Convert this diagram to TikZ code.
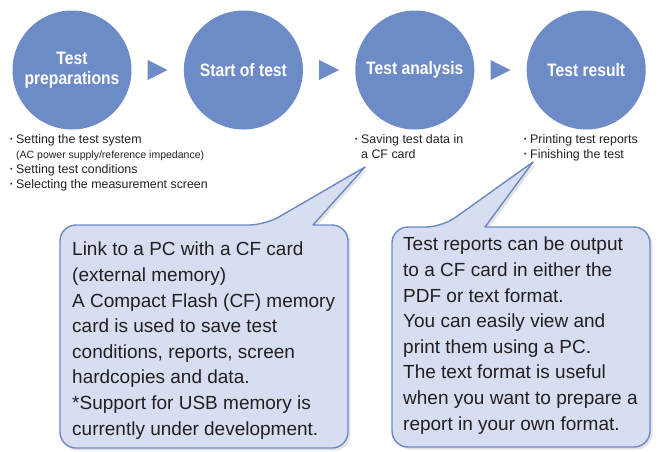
\documentclass[tikz,border=0pt]{standalone}
\usepackage{fontspec}
\setmainfont{Liberation Sans}
\newfontfamily\titlefont[FakeStretch=0.87]{Liberation Sans}
\usetikzlibrary{positioning,calc,shadows}

\definecolor{stagefill}{HTML}{6D8BC7}
\definecolor{notefill}{HTML}{D7DEF1}
\definecolor{noteline}{HTML}{6A89C6}
\definecolor{inktext}{HTML}{231F20}

\newcommand{\bul}{\makebox[6pt][l]{\raisebox{0.25ex}{\fontsize{7}{7}\selectfont\textbullet}}}

\begin{document}
\begin{tikzpicture}[
    x=1pt, y=-1pt,
    stage/.style={circle, fill=stagefill, minimum size=119pt, inner sep=0pt, align=center, text=white,
        font=\titlefont\bfseries\fontsize{18}{20}\selectfont},
    steplist/.style={anchor=base west, inner sep=0pt, align=left, text=inktext,
        font=\fontsize{12.4}{15}\selectfont},
    callout/.style={draw=noteline, line width=1.4pt, fill=notefill, line join=round,
        drop shadow={opacity=0.22, shadow xshift=2.5pt, shadow yshift=-2.5pt}},
    calltext/.style={anchor=base west, inner sep=0pt, align=left, text=inktext,
        font=\fontsize{19}{25.6}\selectfont},
]
    \useasboundingbox (0,0) rectangle (661,451);

    \node[stage] (prep) at (72,70) {Test\\preparations};
    \node[stage, right=52pt of prep] (start) {Start of test};
    \node[stage, right=52pt of start] (analysis) {Test analysis};
    \node[stage, right=52pt of analysis] (result) {Test result};

    \foreach \a/\b in {prep/start, start/analysis, analysis/result}
        \fill[stagefill] ($(\a)!0.5!(\b)+(-10,-10)$) -- ($(\a)!0.5!(\b)+(10,0)$) -- ($(\a)!0.5!(\b)+(-10,10)$) -- cycle;

    % base anchor sits on the last line
    \node[steplist] (prepnotes) at (10,188) {\bul Setting the test system\\
        \hspace*{6pt}{\fontsize{10.5}{15}\selectfont(AC power supply/reference impedance)}\\
        \bul Setting test conditions\\
        \bul Selecting the measurement screen};
    \node[steplist] (analysisnotes) at (355,158) {\bul Saving test data in\\\hspace*{6pt}a CF card};
    \node[steplist] (resultnotes) at (524,158) {\bul Printing test reports\\\bul Finishing the test};

    \coordinate (cardtip) at (365,167);
    \coordinate (reporttip) at (533,162);

    \draw[callout] (60,330) [rounded corners=16pt] -- (60,225) -- (265,225) [sharp corners] -- (cardtip)
        -- (313,225) [rounded corners=16pt] -- (348,225) -- (348,448) -- (60,448) -- cycle;
    \draw[callout] (392,330) [rounded corners=16pt] -- (392,227) -- (442,227) [sharp corners] -- (reporttip)
        -- (485,227) [rounded corners=16pt] -- (650,227) -- (650,447) -- (392,447) -- cycle;

    \node[calltext] (cardnote) at (72,435) {Link to a PC with a CF card\\(external memory)\\
        A Compact Flash (CF) memory\\card is used to save test\\conditions, reports, screen\\
        hardcopies and data.\\*Support for USB memory is\\currently under development.};
    \node[calltext] (reportnote) at (403,430) {Test reports can be output\\to a CF card in either the\\
        PDF or text format.\\You can easily view and\\print them using a PC.\\
        The text format is useful\\when you want to prepare a\\report in your own format.};
\end{tikzpicture}
\end{document}
